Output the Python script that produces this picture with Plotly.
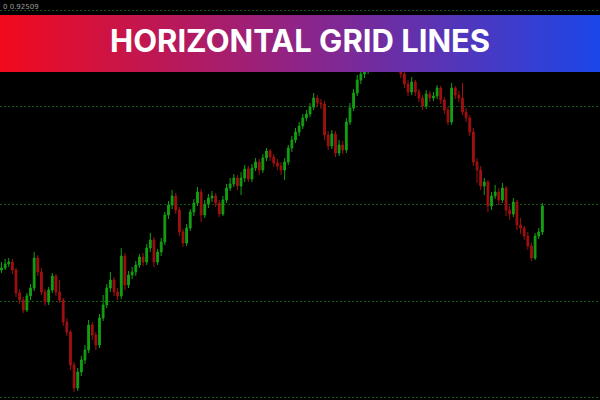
import plotly.graph_objects as go

TICK = 0.0001  # price units per point

open_pts = [
    9230, 9232, 9236, 9238, 9230, 9207, 9200, 9190, 9204, 9212,
    9242, 9228, 9208, 9198, 9210, 9224, 9208, 9200, 9178, 9168,
    9135, 9112, 9128, 9140, 9150, 9175, 9165, 9155, 9182, 9195,
    9212, 9220, 9208, 9204, 9244, 9215, 9225, 9228, 9235, 9243,
    9238, 9252, 9260, 9238, 9248, 9258, 9285, 9295, 9304, 9290,
    9268, 9257, 9272, 9288, 9297, 9308, 9285, 9296, 9302, 9304,
    9297, 9286, 9300, 9312, 9316, 9322, 9314, 9322, 9331, 9321,
    9332, 9338, 9330, 9342, 9349, 9343, 9337, 9334, 9330, 9338,
    9352, 9360, 9368, 9374, 9382, 9386, 9393, 9402, 9397, 9396,
    9365, 9354, 9366, 9347, 9355, 9350, 9378, 9392, 9407, 9420,
    9426, 9430, 9438, 9445, 9452, 9448, 9456, 9450, 9442, 9446,
    9436, 9426, 9416, 9408, 9418, 9408, 9402, 9394, 9406, 9402,
    9404, 9412, 9400, 9390, 9378, 9412, 9405, 9402, 9388, 9382,
    9368, 9338, 9330, 9314, 9318, 9294, 9304, 9308, 9300, 9312,
    9290, 9286, 9298, 9275, 9272, 9264, 9254, 9242, 9264, 9268,
]
high_pts = [
    9238, 9241, 9242, 9241, 9232, 9211, 9203, 9207, 9216, 9248,
    9245, 9232, 9211, 9213, 9227, 9226, 9220, 9202, 9182, 9170,
    9138, 9132, 9144, 9155, 9180, 9178, 9168, 9186, 9205, 9216,
    9228, 9223, 9212, 9252, 9247, 9229, 9233, 9239, 9246, 9247,
    9256, 9267, 9263, 9251, 9262, 9288, 9299, 9310, 9307, 9293,
    9271, 9276, 9291, 9301, 9313, 9311, 9300, 9306, 9309, 9307,
    9300, 9304, 9316, 9322, 9326, 9325, 9328, 9335, 9334, 9336,
    9342, 9341, 9346, 9352, 9351, 9346, 9341, 9338, 9342, 9355,
    9364, 9372, 9378, 9386, 9390, 9397, 9407, 9405, 9401, 9399,
    9369, 9370, 9369, 9360, 9359, 9382, 9397, 9411, 9425, 9430,
    9436, 9442, 9449, 9456, 9455, 9460, 9459, 9453, 9450, 9449,
    9439, 9429, 9420, 9423, 9420, 9411, 9405, 9410, 9409, 9408,
    9415, 9414, 9403, 9393, 9417, 9414, 9409, 9417, 9392, 9385,
    9372, 9342, 9334, 9322, 9320, 9308, 9315, 9312, 9317, 9314,
    9294, 9302, 9300, 9282, 9274, 9268, 9257, 9267, 9272, 9297,
]
low_pts = [
    9227, 9230, 9233, 9226, 9203, 9196, 9187, 9188, 9200, 9209,
    9224, 9205, 9194, 9195, 9207, 9204, 9197, 9174, 9164, 9130,
    9108, 9109, 9124, 9136, 9147, 9160, 9150, 9152, 9179, 9192,
    9208, 9204, 9200, 9201, 9210, 9212, 9221, 9224, 9232, 9234,
    9235, 9248, 9233, 9235, 9244, 9255, 9281, 9291, 9286, 9264,
    9253, 9254, 9269, 9284, 9294, 9278, 9282, 9292, 9298, 9293,
    9283, 9284, 9297, 9309, 9313, 9310, 9305, 9318, 9318, 9318,
    9329, 9325, 9327, 9339, 9339, 9333, 9330, 9325, 9320, 9335,
    9348, 9357, 9364, 9371, 9379, 9383, 9390, 9393, 9391, 9360,
    9350, 9351, 9343, 9344, 9346, 9347, 9375, 9389, 9404, 9416,
    9422, 9426, 9434, 9442, 9444, 9445, 9446, 9438, 9439, 9432,
    9422, 9412, 9404, 9405, 9404, 9398, 9390, 9391, 9398, 9399,
    9401, 9396, 9386, 9375, 9375, 9401, 9398, 9385, 9378, 9364,
    9334, 9317, 9310, 9305, 9288, 9290, 9301, 9295, 9297, 9284,
    9280, 9283, 9270, 9266, 9260, 9250, 9239, 9240, 9261, 9265,
]
close_pts = [
    9232, 9236, 9238, 9230, 9207, 9200, 9190, 9204, 9212, 9242,
    9228, 9208, 9198, 9210, 9224, 9208, 9200, 9178, 9168, 9135,
    9112, 9128, 9140, 9150, 9175, 9165, 9155, 9182, 9195, 9212,
    9220, 9208, 9204, 9244, 9215, 9225, 9228, 9235, 9243, 9238,
    9252, 9260, 9238, 9248, 9258, 9285, 9295, 9304, 9290, 9268,
    9257, 9272, 9288, 9297, 9308, 9285, 9296, 9302, 9304, 9297,
    9286, 9300, 9312, 9316, 9322, 9314, 9322, 9331, 9321, 9332,
    9338, 9330, 9342, 9349, 9343, 9337, 9334, 9330, 9338, 9352,
    9360, 9368, 9374, 9382, 9386, 9393, 9402, 9397, 9396, 9365,
    9354, 9366, 9347, 9355, 9350, 9378, 9392, 9407, 9420, 9426,
    9430, 9438, 9445, 9452, 9448, 9456, 9450, 9442, 9446, 9436,
    9426, 9416, 9408, 9418, 9408, 9402, 9394, 9406, 9402, 9404,
    9412, 9400, 9390, 9378, 9412, 9405, 9402, 9388, 9382, 9368,
    9338, 9330, 9314, 9318, 9294, 9304, 9308, 9300, 9312, 9290,
    9286, 9298, 9275, 9272, 9264, 9254, 9242, 9264, 9268, 9294,
]
grid_levels_pts = [9490, 9394, 9296, 9199, 9103]
price_range_pts = [9100, 9500]
title_text = "HORIZONTAL GRID LINES"
info_text = "0 0.92509"

opens = [v * TICK for v in open_pts]
highs = [v * TICK for v in high_pts]
lows = [v * TICK for v in low_pts]
closes = [v * TICK for v in close_pts]
bars = list(range(len(close_pts)))
grid_levels = [v * TICK for v in grid_levels_pts]

GREEN = "#12a012"
RED = "#a01010"

fig = go.Figure()
fig.add_trace(go.Candlestick(
    x=bars, open=opens, high=highs, low=lows, close=closes,
    increasing=dict(line=dict(color=GREEN, width=1), fillcolor=GREEN),
    decreasing=dict(line=dict(color=RED, width=1), fillcolor=RED),
    whiskerwidth=0, showlegend=False, hoverinfo="skip",
))

# gradient banner (paper-like overlay axes)
fig.add_trace(go.Scatter(
    x=[0, 1, 1, 0, 0], y=[0.82, 0.82, 0.9625, 0.9625, 0.82],
    xaxis="x2", yaxis="y2", mode="lines", line=dict(width=0),
    fill="toself",
    fillgradient=dict(type="horizontal",
                      colorscale=[[0, "#f20a1c"], [0.5, "#8e2488"], [1, "#1c46e8"]]),
    showlegend=False, hoverinfo="skip",
))

fig.update_layout(
    width=600, height=400,
    margin=dict(l=0, r=0, t=0, b=0),
    paper_bgcolor="#000000", plot_bgcolor="#000000",
    showlegend=False,
    xaxis=dict(range=[-0.41, 164.88], visible=False, rangeslider=dict(visible=False),
               fixedrange=True),
    yaxis=dict(range=[price_range_pts[0] * TICK, price_range_pts[1] * TICK],
               tickvals=grid_levels, showticklabels=False, ticks="",
               showgrid=True, gridcolor="#17581a", gridwidth=1, griddash="2px,2px",
               zeroline=False, showline=False, fixedrange=True),
    xaxis2=dict(range=[0, 1], overlaying="x", visible=False, fixedrange=True),
    yaxis2=dict(range=[0, 1], overlaying="y", visible=False, fixedrange=True),
    annotations=[
        dict(text="<b>" + title_text + "</b>", x=0.5, y=0.899, xref="paper", yref="paper",
             showarrow=False, font=dict(family="Inter", size=31, color="#ffffff"),
             xanchor="center", yanchor="middle"),
        dict(text=info_text, x=0.002, y=0.997, xref="paper", yref="paper",
             showarrow=False, font=dict(family="DejaVu Sans", size=7, color="#9a9a9a"),
             xanchor="left", yanchor="top"),
    ],
)

fig.write_html(
    "out.html",
    config={"displayModeBar": False},
    post_script="document.body.style.margin='0';document.body.style.background='#000';",
)
